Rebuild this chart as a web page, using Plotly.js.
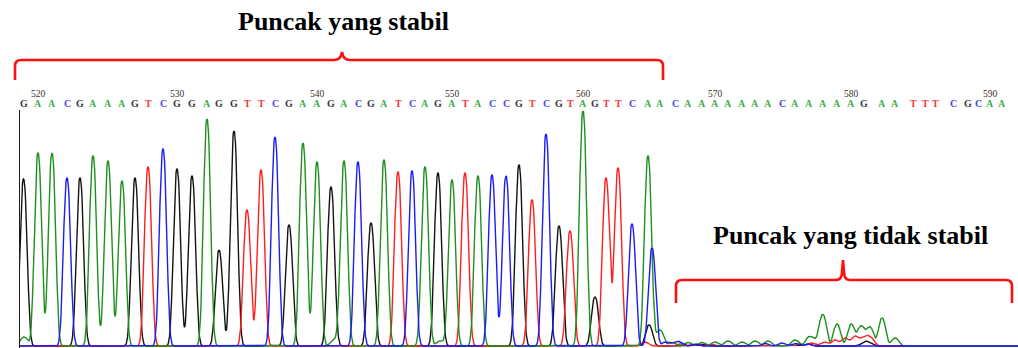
<!DOCTYPE html>
<html>
<head>
<meta charset="utf-8">
<script src="https://cdn.plot.ly/plotly-3.0.1.min.js"></script>
<style>
  html, body { margin: 0; padding: 0; background: #ffffff; }
  #chart { width: 1018px; height: 348px; }
</style>
</head>
<body>
<div id="chart"></div>
<script>
// ---------------- DATA ----------------
// Base calls, positions 519..591
const bases = [
  'G','A','A','C','G','A','A','A','G','T','C','G','G','A','G','G','T','T','C','G',
  'A','A','G','A','C','G','A','T','C','A','G','A','T','A','C','C','G','T','C','G',
  'T','A','G','T','T','C','A','A',
  'C','A','A','A','A','A','A','A','C','A','A','A','A','A','G','A','A','T','T','T',
  'C','G','C','A','A'
];
const firstBaseNumber = 519;
// Position of each base call along the trace (scan units)
const basePos = [
  23.5, 38, 52, 67, 80, 93, 108, 122, 135, 148, 163, 177, 192, 207, 219, 234, 247, 261, 275, 289,
  303, 317, 331, 344, 358, 371, 384, 398, 412, 425, 438, 452, 465, 478, 492, 506, 519, 532, 546, 559,
  570, 583, 595, 606, 618, 632, 648, 660,
  675, 688, 702, 715, 728, 742, 755, 768, 782, 795, 809, 823, 837, 851, 864, 882, 895, 913, 925, 935,
  953, 968, 978, 990, 1002
];
// Peak height of each called base (signal units)
const peakHeight = [
  167, 193, 193, 168, 168, 190, 185, 165, 168, 179, 197, 177, 170, 227, 96, 215, 136, 176, 209, 121,
  203, 184, 159, 185, 184, 123, 186, 174, 175, 179, 173, 166, 173, 170, 171, 170, 181, 146, 212, 120,
  115, 235, 49, 168, 178, 122, 190, 16,
  3, 3.5, 3.5, 4, 5, 4, 5, 5, 3, 6, 9, 31, 22, 22, 3, 28, 8, 0.5, 0.5, 0,
  0, 0, 0, 0, 0
];
// Secondary (uncalled) peaks per dye channel: [position, height]
const minorA = [[24, 9], [334, 6], [440, 5], [672, 3.5], [861, 20], [870, 19], [816, 5]];
const minorC = [[652, 98], [666, 4], [680, 3], [694, 2], [765, 2.5], [795, 2.5], [808, 2]];
const minorG = [[649, 21], [702, 1.5], [808, 2], [869, 3]];
const minorT = [[645, 4], [680, 2], [695, 2], [710, 2], [800, 2], [812, 3], [824, 4], [835, 6], [845, 8], [855, 10], [864, 9], [871, 8]];
// Ruler labels
const tickNumbers = [520, 530, 540, 550, 560, 570, 580, 590];
// Region labels
const regionLabels = ['Puncak yang stabil', 'Puncak yang tidak stabil'];

// ---------------- STYLE ----------------
const W = 1018, H = 348;
const traceColor = { A: '#1f8f1f', C: '#1c1cf5', G: '#141414', T: '#ff1e1e' };
const letterColor = { A: '#3fae3f', C: '#4646ee', G: '#383838', T: '#f23a3a' };
const peakWidth = 4.8, peakPower = 2.4;   // peak profile exp(-(|d|/w)^p)
const minorSets = { A: minorA, C: minorC, G: minorG, T: minorT };

const px = x => x / W;
const py = y => 1 - y / H;

// ---------------- TRACES ----------------
function channel(letter) {
  const peaks = [];
  bases.forEach((b, i) => { if (b === letter && peakHeight[i] > 0) peaks.push([basePos[i], peakHeight[i]]); });
  minorSets[letter].forEach(p => peaks.push(p));
  const xs = [], ys = [];
  for (let x = 18; x <= 1020; x += 0.5) {
    let y = 0;
    for (const [p, h] of peaks) {
      const d = Math.abs(x - p);
      if (d < 20) y += h * Math.exp(-Math.pow(d / peakWidth, peakPower));
    }
    xs.push(x); ys.push(y);
  }
  return {
    type: 'scatter', mode: 'lines', x: xs, y: ys,
    line: { color: traceColor[letter], width: 1.4, shape: 'linear' },
    hoverinfo: 'skip', showlegend: false
  };
}
const data = ['G', 'T', 'A', 'C'].map(channel);

// ---------------- ANNOTATIONS ----------------
const annotations = [];
bases.forEach((b, i) => {
  annotations.push({
    xref: 'x', yref: 'paper', x: basePos[i], y: py(103.5),
    text: '<b>' + b + '</b>', showarrow: false, xanchor: 'center', yanchor: 'middle',
    font: { family: 'Liberation Serif, serif', size: 10, color: letterColor[b] }
  });
});
tickNumbers.forEach(n => {
  const i = n - firstBaseNumber;
  annotations.push({
    xref: 'x', yref: 'paper', x: basePos[i], y: py(94),
    text: String(n), showarrow: false, xanchor: 'center', yanchor: 'middle',
    font: { family: 'Liberation Serif, serif', size: 9.5, color: '#3a3028' }
  });
});
annotations.push({
  xref: 'paper', yref: 'paper', x: px(343), y: py(22),
  text: '<b>' + regionLabels[0] + '</b>', showarrow: false, xanchor: 'center', yanchor: 'middle',
  font: { family: 'Liberation Serif, Times New Roman, serif', size: 26, color: '#000' }
});
annotations.push({
  xref: 'paper', yref: 'paper', x: px(850), y: py(236),
  text: '<b>' + regionLabels[1] + '</b>', showarrow: false, xanchor: 'center', yanchor: 'middle',
  font: { family: 'Liberation Serif, Times New Roman, serif', size: 26, color: '#000' }
});

// ---------------- BRACKETS ----------------
function pathPx(cmds) {
  return cmds.map(c => c[0] + c.slice(1).map((v, k) => (k % 2 === 0 ? px(v) : py(v)).toFixed(5)).join(',')).join(' ');
}
const bracket1 = pathPx([
  ['M', 15, 80], ['L', 15, 66], ['Q', 15, 60, 21, 60], ['L', 334, 60],
  ['Q', 341, 60, 342, 52], ['Q', 343, 60, 350, 60], ['L', 657, 60],
  ['Q', 663, 60, 663, 66], ['L', 663, 80]
]);
const bracket2 = pathPx([
  ['M', 676, 303], ['L', 676, 286], ['Q', 676, 280, 682, 280], ['L', 836, 280],
  ['Q', 842, 280, 842, 272], ['L', 843, 260], ['L', 844, 272], ['Q', 844, 280, 850, 280],
  ['L', 1006, 280], ['Q', 1012, 280, 1012, 286], ['L', 1012, 303]
]);
const shapes = [bracket1, bracket2].map(p => ({
  type: 'path', xref: 'paper', yref: 'paper', path: p,
  line: { color: '#ff1010', width: 2.6 }
}));

// ---------------- LAYOUT ----------------
const layout = {
  width: W, height: H,
  margin: { l: 0, r: 0, t: 0, b: 0, pad: 0 },
  paper_bgcolor: '#ffffff', plot_bgcolor: '#ffffff',
  showlegend: false,
  xaxis: {
    domain: [20 / W, 1], range: [20, 1018],
    showgrid: false, zeroline: false, showline: false, showticklabels: false, ticks: ''
  },
  yaxis: {
    domain: [0, 238 / H], range: [-2, 236],
    showgrid: false, zeroline: false, showline: true, linecolor: '#1a1a1a', linewidth: 1.4,
    showticklabels: false, ticks: ''
  },
  annotations: annotations,
  shapes: shapes
};

Plotly.newPlot('chart', data, layout, { displayModeBar: false, staticPlot: true });
</script>
</body>
</html>
